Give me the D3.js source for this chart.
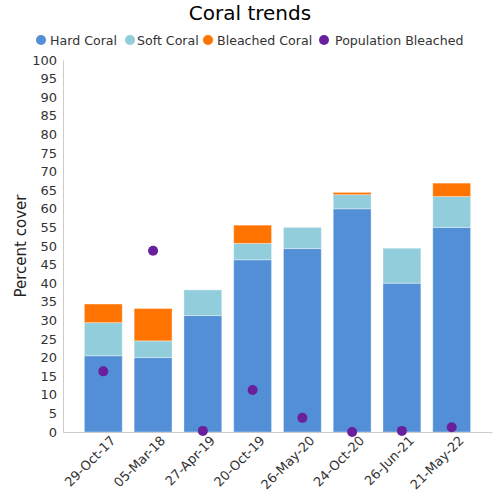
<!DOCTYPE html>
<html><head><meta charset="utf-8">
<script src="https://cdn.jsdelivr.net/npm/d3@7"></script>
<style>body{margin:0;background:#fff}svg{font-family:"DejaVu Sans",sans-serif}</style>
</head><body><svg id="c" width="500" height="500"></svg>
<script>
const categories = ["29-Oct-17","05-Mar-18","27-Apr-19","20-Oct-19","26-May-20","24-Oct-20","26-Jun-21","21-May-22"];
const hardCoral = [20.5, 20, 31.3, 46.3, 49.3, 60, 40, 55];
const softCoral = [8.9, 4.5, 6.9, 4.4, 5.7, 3.8, 9.4, 8.3];
const bleachedCoral = [5, 8.7, 0, 4.9, 0, 0.6, 0, 3.6];
const populationBleached = [16.3, 48.7, 0.3, 11.3, 3.8, 0, 0.3, 1.3];
const yTicks = d3.range(0, 101, 5);
const seriesNames = ["Hard Coral","Soft Coral","Bleached Coral","Population Bleached"];
const colors = ["#538fd6","#92cddb","#ff7300","#6a1f9c"];

const svg = d3.select("#c");
const x = d3.scaleBand().domain(categories).range([63, 492]).paddingInner(0.24).paddingOuter(0.43);
const y = d3.scaleLinear().domain([0, 100]).range([432, 60]);

// title
svg.append("text").attr("x", 250).attr("y", 20).attr("text-anchor","middle")
  .attr("font-size", 20).attr("fill","#000").text("Coral trends");

// legend
const legendX = [41, 130, 208, 324];
const legendTextX = [50, 137, 217, 335];
seriesNames.forEach((n,i)=>{
  svg.append("circle").attr("cx",legendX[i]).attr("cy",40).attr("r",5).attr("fill",colors[i]);
  svg.append("text").attr("x", legendTextX[i]).attr("y",44.5).attr("font-size",12.6).attr("fill","#333").text(n);
});

// y axis
const yAxis = svg.append("g").attr("transform","translate(63,0)")
  .call(d3.axisLeft(y).tickValues(yTicks).tickSize(0).tickPadding(6));
yAxis.select(".domain").attr("stroke","#ccc");
yAxis.selectAll("text").attr("font-size",13).attr("fill","#333").attr("font-family","DejaVu Sans");

svg.append("text").attr("transform","translate(26,246) rotate(-90)").attr("text-anchor","middle")
  .attr("font-size",15).attr("fill","#222").text("Percent cover");

// bars
const stackData = categories.map((c,i)=>({cat:c, hard:hardCoral[i], soft:softCoral[i], bleached:bleachedCoral[i]}));
const stack = d3.stack().keys(["hard","soft","bleached"])(stackData);
stack.forEach((s,k)=>{
  svg.append("g").selectAll("rect").data(s).join("rect")
    .attr("x", d=>x(d.data.cat)).attr("width", x.bandwidth())
    .attr("y", d=>y(d[1])).attr("height", d=>Math.max(0, y(d[0])-y(d[1])))
    .attr("fill", colors[k])
    .attr("stroke", d=> (d[1]-d[0])>0 ? "rgba(255,255,255,0.35)" : "none").attr("stroke-width",1);
});

// x axis
const xAxis = svg.append("g").attr("transform","translate(0,432)")
  .call(d3.axisBottom(x).tickSize(0).tickPadding(8));
xAxis.select(".domain").attr("stroke","#ccc");
xAxis.selectAll("text").attr("font-size",13).attr("fill","#333").attr("font-family","DejaVu Sans")
  .attr("text-anchor","end").attr("dx","0.2em").attr("dy","0.6em")
  .attr("transform","rotate(-45)");

// dots
svg.append("g").selectAll("circle").data(categories).join("circle")
  .attr("cx", d=>x(d)+x.bandwidth()/2).attr("cy", (d,i)=>y(populationBleached[i]))
  .attr("r",5).attr("fill",colors[3]);
</script></body></html>
